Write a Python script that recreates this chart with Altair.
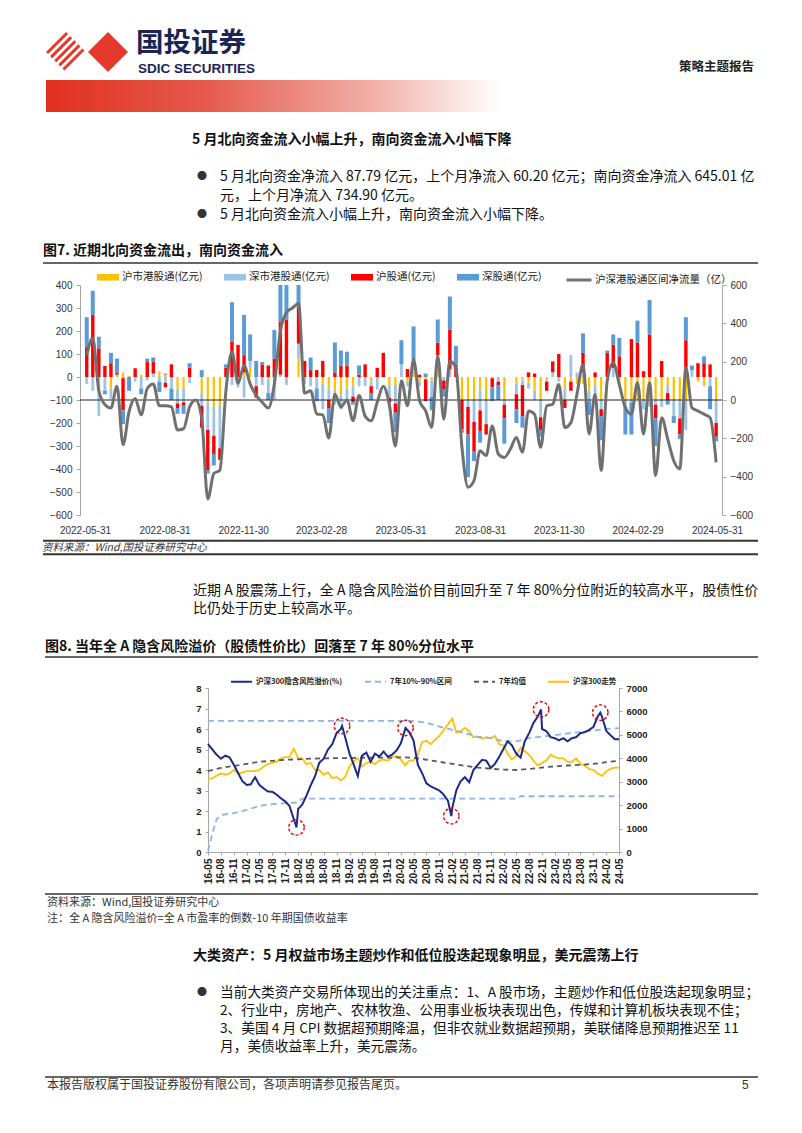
import altair as alt
import pandas as pd

CJK = "Noto Sans CJK SC"
LAT = "Liberation Sans"
W = 786

# ======================= Figure 7 data (weekly, 亿元) =======================
fig7_series = ["沪市港股通(亿元)", "深市港股通(亿元)", "沪股通(亿元)", "深股通(亿元)"]
fig7_colors = ["#FFC000", "#9DC3E6", "#FF0000", "#5B9BD5"]
fig7_line_name = "沪深港股通区间净流量（亿）"
fig7_ticks = ["2022-05-31", "2022-08-31", "2022-11-30", "2023-02-28", "2023-05-31",
              "2023-08-31", "2023-11-30", "2024-02-29", "2024-05-31"]

sh_hk = [0, 0, 0, 0, -50, 10, 20, 5, 0, 10,
         0, 0, 25, 10, 0, -55, -50, 0, 0, -70,
         -110, -130, -125, 0, 0, 0, 20, 40, 0, 0,
         -10, 0, 0, 0, 0, 80, 0, 0, 0, -30,
         -50, -60, -80, -50, -40, 0, 0, -20, 0, 0,
         -35, -35, 0, -20, 25, -20, -10, -15, 30, 0,
         0, 0, -100, -100, -100, -55, -100, -5, 0, -100,
         0, -30, -15, -30, -60, -100, -10, 0, 0, -50,
         -20, -30, -30, -60, -40, -100, 0, 0, -30, -100,
         -100, -100, -100, -100, -100, -100, -40, -100, -100, -100,
         0, -20, -40, 0, -100]
sz_hk = [-30, -60, -170, -60, -45, 0, -5, 0, -20, -50,
         -15, 15, -20, -25, -50, -60, -60, -25, 0, -55,
         -120, -125, -185, 0, -35, -45, -90, 30, -40, -35,
         -60, -100, 10, -35, 0, 65, -30, -40, -50, -110,
         -50, -60, -60, -50, -45, -40, -40, -20, -55, 0,
         -55, -80, 55, -20, 50, -20, 0, -70, 65, -15,
         35, 0, 0, -30, -95, -90, -105, 0, -20, -20,
         0, -45, -20, -20, -40, -75, -10, 20, -20, -50,
         95, 20, 20, -45, -40, -40, 0, 40, 0, -30,
         -10, 0, -40, -30, -20, -30, -30, -70, -80, -130,
         30, 0, 0, -40, -100]
sh_conn = [130, 270, 125, 48, 60, 10, -140, 0, 38, 0,
           65, 50, 0, -20, 55, -20, -15, 40, 0, -95,
           -175, -80, -50, 40, 155, 140, 75, 0, -50, 55,
           50, 80, 230, 250, 0, 155, 70, 30, 30, 70,
           -35, 20, 50, 50, -25, 10, 55, -30, 40, 105,
           -20, -40, 0, 35, 0, 10, -95, 0, 55, -40,
           170, 55, -127, -120, -130, -90, -45, -40, -15, -60,
           0, -65, -135, 20, 15, -55, -40, 45, 100, -35,
           -40, 0, 85, 0, 20, -30, 105, 100, 90, 0,
           165, 150, 25, 185, -60, 70, -30, 0, -70, 160,
           0, 60, 60, 55, -60]
sz_conn = [130, 105, 50, -15, 45, 60, -60, -60, 0, -25,
           15, 20, -45, 5, -50, -25, -35, 20, 0, 30,
           -15, -50, 0, 15, 170, 0, 175, 115, 70, 10,
           -30, 125, 200, 200, 0, 150, 0, 55, -55, 0,
           -65, 130, 65, 60, -10, 40, 0, -30, 0, 0,
           0, -85, 105, 0, 145, 0, 15, -60, 100, -30,
           145, 80, -15, -185, -40, -50, 0, -60, -65, -110,
           0, -60, -50, 0, 0, -30, 0, 5, 0, 0,
           0, 0, 85, -60, -10, -105, 10, 45, 80, -120,
           -140, 95, 0, 150, -120, 0, -20, -30, -20, 100,
           20, 0, 30, -100, -20]
net_flow = [234, 322, 48, -24, -42, 72, -234, -60, 8, -78,
            60, 84, -30, -30, -36, -156, -150, -36, 0, -96,
            -516, -384, -366, 48, 252, 86, 180, 84, 24, -12,
            -42, 84, 360, 456, 480, 504, 36, 48, -72, -78,
            -198, 30, -36, 0, -108, 24, -84, -108, -12, 72,
            -24, -240, 100, -30, 211, -5, -57, -144, 228, -100,
            202, 168, -247, -455, -420, -265, -290, -135, -282, -300,
            -256, -195, -273, -57, -74, -247, -31, -22, 81, -144,
            -118, 29, 185, -178, 29, -368, 99, 194, 81, -40,
            -74, 90, -178, 90, -394, -92, -204, -317, -360, 168,
            -40, -57, -74, -92, -325]

# ======================= Figure 8 data =======================
fig8_names = ["沪深300隐含风险溢价(%)", "7年10%-90%区间", "7年均值", "沪深300走势"]
fig8_colors = ["#1C2A88", "#8DB4E2", "#595959", "#FFC000"]
fig8_dashes = [[1, 0], [6, 4], [5, 4], [1, 0]]

# monthly, 2016-05 .. 2024-05
erp_monthly = [5.27, 5.0, 4.75, 4.55, 4.7, 4.62, 4.25, 3.85,
               3.45, 3.27, 3.3, 3.65, 3.27, 3.1, 2.95, 2.94, 2.8, 2.62, 2.47, 2.25,
               1.6, 2.1, 2.3, 2.75, 3.25, 3.7, 4.35, 4.55, 5.0, 5.25, 5.8, 6.0,
               5.6, 4.8, 4.3, 3.7, 4.7, 4.85, 4.4, 4.8, 4.65, 4.9, 4.65, 4.75,
               4.95, 5.3, 5.95, 5.85, 5.45, 4.25, 3.85, 3.35, 3.2, 3.1, 3.0, 2.8,
               2.5, 2.15, 3.0, 3.45, 3.65, 3.4, 4.0, 4.25, 4.5, 4.45, 4.1, 4.3,
               4.65, 5.05, 5.4, 5.2, 4.8, 4.6, 5.4, 5.8, 6.3, 6.6, 6.0, 5.9,
               5.6, 5.55, 5.45, 5.55, 5.4, 5.55, 5.6, 5.8, 5.85, 5.95, 6.1, 6.6,
               6.6, 5.9, 5.7, 5.5, 5.5]
csi300_monthly = [3100, 3150, 3250, 3350, 3300, 3350, 3500, 3350,
                  3400, 3450, 3450, 3450, 3500, 3650, 3750, 3800, 3850, 4000, 4050, 4050,
                  4400, 4000, 4000, 3750, 3800, 3500, 3500, 3300, 3400, 3150, 3200, 3050,
                  3200, 3650, 3850, 4000, 3650, 3800, 3850, 3750, 3900, 3950, 3900, 4050,
                  4100, 3950, 3700, 3900, 3900, 4150, 4700, 4750, 4600, 4800, 4950, 5200,
                  5450, 5700, 5100, 5150, 5300, 5150, 4900, 4900, 4850, 4900, 4850, 4950,
                  4600, 4550, 4200, 3950, 4100, 4450, 4300, 4150, 3900, 3700, 3800, 3900,
                  4150, 4050, 4000, 4000, 3850, 3850, 4000, 3750, 3700, 3550, 3500, 3350,
                  3250, 3450, 3550, 3600, 3600]
# marked extremes (red dashed circles)
extreme_dates = ["2018-01-20", "2018-12-10", "2020-03-05", "2021-01-25", "2022-10-25", "2023-12-20"]
extreme_values = [1.2, 6.15, 6.05, 1.75, 6.95, 6.8]

upper_dates = ["2016-05-01", "2020-05-01", "2020-08-01", "2020-11-01", "2021-02-01", "2021-05-01",
               "2021-08-01", "2021-11-01", "2022-02-01", "2022-05-01", "2022-08-01", "2022-11-01",
               "2023-02-01", "2023-05-01", "2023-08-01", "2023-11-01", "2024-02-01", "2024-05-01"]
upper_values = [6.4, 6.4, 6.3, 6.12, 5.96, 5.8, 5.63, 5.55, 5.4, 5.4, 5.55, 5.63,
                5.7, 5.78, 5.85, 5.92, 6.0, 6.04]
lower_dates = ["2016-05-01", "2016-06-01", "2016-07-01", "2016-08-01", "2016-11-01", "2017-02-01",
               "2017-05-01", "2017-08-01", "2017-11-01", "2018-02-01", "2018-03-01", "2022-05-01",
               "2022-06-01", "2024-05-01"]
lower_values = [0.05, 0.9, 1.6, 1.8, 1.9, 2.05, 2.25, 2.33, 2.38, 2.42, 2.6, 2.6, 2.72, 2.72]
# quarterly 2016-05 .. 2024-05
mean_values = [3.95, 4.1, 4.2, 4.3, 4.4, 4.45, 4.5, 4.52, 4.55, 4.57, 4.58, 4.58,
               4.6, 4.6, 4.6, 4.62, 4.6, 4.5, 4.4, 4.3, 4.2, 4.12, 4.06, 4.02,
               4.0, 4.05, 4.12, 4.18, 4.22, 4.25, 4.3, 4.38, 4.45]

# ======================= page text =======================
sec1_title = "5 月北向资金流入小幅上升，南向资金流入小幅下降"
sec1_lines = ["5 月北向资金净流入 87.79 亿元，上个月净流入 60.20 亿元；南向资金净流入 645.01 亿",
              "元，上个月净流入 734.90 亿元。",
              "5 月北向资金流入小幅上升，南向资金流入小幅下降。"]
fig7_title = "图7. 近期北向资金流出，南向资金流入"
fig7_source = "资料来源：Wind,国投证券研究中心"
para_lines = ["近期 A 股震荡上行，全 A 隐含风险溢价目前回升至 7 年 80%分位附近的较高水平，股债性价",
              "比仍处于历史上较高水平。"]
fig8_title = "图8. 当年全 A 隐含风险溢价（股债性价比）回落至 7 年 80%分位水平"
fig8_source = "资料来源：Wind,国投证券研究中心"
fig8_note = "注：全 A 隐含风险溢价=全 A 市盈率的倒数-10 年期国债收益率"
sec2_title = "大类资产：5 月权益市场主题炒作和低位股迭起现象明显，美元震荡上行"
sec2_lines = ["当前大类资产交易所体现出的关注重点：1、A 股市场，主题炒作和低位股迭起现象明显；",
              "2、行业中，房地产、农林牧渔、公用事业板块表现出色，传媒和计算机板块表现不佳；",
              "3、美国 4 月 CPI 数据超预期降温，但非农就业数据超预期，美联储降息预期推迟至 11",
              "月，美债收益率上升，美元震荡。"]
footer_text = "本报告版权属于国投证券股份有限公司，各项声明请参见报告尾页。"
page_no = "5"

# ======================= helpers =======================
one = pd.DataFrame({"k": [0]})


def dt(s):
    t = pd.Timestamp(s)
    return alt.DateTime(year=t.year, month=t.month, date=t.day)


def txt(s, x, y, size=14, weight="normal", color="#111111", font=CJK, align="left", style="normal"):
    return alt.Chart(one).mark_text(fontSize=size, fontWeight=weight, color=color, font=font,
                                    align=align, baseline="middle", fontStyle=style).encode(
        x=alt.value(x), y=alt.value(y), text=alt.value(s))


def hrule(x1, x2, y, width=1.5, color="#333333"):
    return alt.Chart(one).mark_rule(color=color, strokeWidth=width).encode(
        x=alt.value(x1), x2=alt.value(x2), y=alt.value(y))


# ======================= Panel 1: header + section 1 =======================
def logo_path():
    cx, cy, half = 87.0, 52.0, 41.0
    polys = []
    for a in [98.0, 106.2, 114.4, 122.6, 130.8]:
        b = a + 4.2
        pts = [(a, -6.0), (b, -6.0), (b, 34.0), (a, 34.0)]
        polys.append([((u + v) / 2, (u - v) / 2) for u, v in pts])
    polys.append([(88, 52), (108, 32), (128, 52), (108, 72)])
    out = []
    for poly in polys:
        seg = []
        for j, (px, py) in enumerate(poly):
            seg.append(("M" if j == 0 else "L") + f"{(px - cx) / half:.4f},{(py - cy) / half:.4f}")
        out.append("".join(seg) + "Z")
    return "".join(out)


logo = alt.Chart(one).mark_point(shape=logo_path(), filled=True, size=82 * 82, color="#E4392B",
                                 opacity=1, strokeWidth=0).encode(x=alt.value(79), y=alt.value(44))
band = alt.Chart(one).mark_rect(color=alt.Gradient(
    gradient="linear", x1=0, x2=1, y1=0, y2=0,
    stops=[alt.GradientStop(color="#E1301F", offset=0),
           alt.GradientStop(color="#E55A4C", offset=0.35),
           alt.GradientStop(color="#F2B0A8", offset=0.72),
           alt.GradientStop(color="#FFFFFF", offset=1)])).encode(
    x=alt.value(38), x2=alt.value(493), y=alt.value(72), y2=alt.value(104))

p1_layers = [
    logo, band,
    txt("国投证券", 128, 36, size=27.5, weight="bold", color="#1B2555"),
    txt("SDIC SECURITIES", 130, 60.5, size=13.5, weight="bold", color="#1B2555", font=LAT),
    txt("策略主题报告", 746, 59, size=12.5, weight="bold", color="#222222", align="right"),
    txt(sec1_title, 184, 132, size=14, weight="bold"),
    txt("●", 189, 169, size=10, color="#333333"),
    txt("●", 189, 207, size=10, color="#333333"),
    txt(sec1_lines[0], 212, 169),
    txt(sec1_lines[1], 212, 188),
    txt(sec1_lines[2], 212, 207),
    txt(fig7_title, 35, 243, size=14, weight="bold"),
    hrule(35, 750, 255),
]
panel1 = alt.layer(*p1_layers).properties(width=W, height=258)

# ======================= Panel 2: Figure 7 =======================
weeks = pd.date_range("2022-06-02", periods=len(net_flow), freq="7D")
rows = []
for k, (name, vals) in enumerate(zip(fig7_series, [sh_hk, sz_hk, sh_conn, sz_conn])):
    for d, v in zip(weeks, vals):
        rows.append({"date": d, "series": name, "value": v, "ord": k})
bars_df = pd.DataFrame(rows)
flow_df = pd.DataFrame({"date": weeks, "flow": net_flow, "name": fig7_line_name})

P2H = 294
x1_scale = alt.Scale(domain=[dt("2022-05-31"), dt("2024-05-31")], range=[72, 714])
x1_axis = alt.Axis(values=[dt(s) for s in fig7_ticks], format="%Y-%m-%d", labelFlush=False,
                   labelOverlap=False, ticks=False, domain=False, grid=False, labelFont=LAT,
                   labelFontSize=10, labelColor="#333333", labelPadding=10, offset=-(P2H - 249),
                   title=None)
axis_common = dict(grid=False, labelFont=LAT, labelFontSize=10, labelColor="#333333",
                   domainColor="#A6A6A6", tickColor="#A6A6A6", tickSize=4, title=None, labelPadding=4)
y1_left_scale = alt.Scale(domain=[-600, 400], range=[249, 19], clamp=True, nice=False, zero=False)
y1_left_axis = alt.Axis(orient="left", values=list(range(-600, 401, 100)), offset=-72, **axis_common)
y1_right_scale = alt.Scale(domain=[-600, 600], range=[249, 19], nice=False, zero=False)
y1_right_axis = alt.Axis(orient="right", values=list(range(-600, 601, 200)), offset=-72, **axis_common)

bars = alt.Chart(bars_df).mark_bar().encode(
    x=alt.X("date:T", scale=x1_scale, axis=x1_axis),
    y=alt.Y("value:Q", stack="zero", scale=y1_left_scale, axis=y1_left_axis),
    color=alt.Color("series:N", scale=alt.Scale(domain=fig7_series, range=fig7_colors),
                    legend=alt.Legend(title=None, orient="none", legendX=89, legendY=0,
                                      direction="horizontal", symbolType="M-1,-0.3H1V0.3H-1Z",
                                      symbolSize=484, symbolStrokeWidth=0, labelFont=CJK,
                                      labelFontSize=10.5, labelColor="#222222", columnPadding=21,
                                      labelOffset=3, padding=0)),
    size=alt.Size("ord:O", scale=alt.Scale(domain=[0, 1, 2, 3], range=[2.2, 4, 4, 4]), legend=None),
    order=alt.Order("ord:Q"),
)
zero_rule = alt.Chart(one).mark_rule(color="#222222", strokeWidth=1).encode(
    y=alt.YDatum(0, scale=y1_right_scale, axis=y1_right_axis), x=alt.value(72), x2=alt.value(714))
flow_line = alt.Chart(flow_df).mark_line(strokeWidth=3, interpolate="monotone").encode(
    x=alt.X("date:T", scale=x1_scale, axis=x1_axis),
    y=alt.Y("flow:Q", scale=y1_right_scale, axis=y1_right_axis),
    stroke=alt.Stroke("name:N", scale=alt.Scale(domain=[fig7_line_name], range=["#707070"]),
                      legend=alt.Legend(title=None, orient="none", legendX=557, legendY=0,
                                        symbolType="stroke", symbolSize=625, symbolStrokeWidth=3,
                                        labelFont=CJK, labelFontSize=10.5, labelColor="#222222",
                                        labelOffset=2, padding=0)),
)
p2_texts = [
    hrule(35, 750, 274.7, width=2),
    txt(fig7_source, 34, 281.5, size=10.5, style="italic", color="#333333"),
    hrule(35, 750, 288.3, width=2),
]
panel2 = alt.layer(bars, alt.layer(zero_rule, flow_line), *p2_texts).resolve_scale(
    y="independent").properties(width=W, height=P2H)

# ======================= Panel 3: Figure 8 =======================
months = pd.date_range("2016-05-01", periods=len(erp_monthly), freq="MS")
quarters = pd.date_range("2016-05-01", periods=len(mean_values), freq="3MS")

navy_df = pd.concat([
    pd.DataFrame({"date": months, "v": erp_monthly}),
    pd.DataFrame({"date": pd.to_datetime(extreme_dates), "v": extreme_values}),
]).sort_values("date")
navy_df["series"] = fig8_names[0]
band_df = pd.concat([
    pd.DataFrame({"date": pd.to_datetime(upper_dates), "v": upper_values, "series": fig8_names[1], "part": "up"}),
    pd.DataFrame({"date": pd.to_datetime(lower_dates), "v": lower_values, "series": fig8_names[1], "part": "low"}),
    pd.DataFrame({"date": quarters, "v": mean_values, "series": fig8_names[2], "part": "mean"}),
])
csi_df = pd.DataFrame({"date": months, "v": csi300_monthly, "series": fig8_names[3]})
circ_df = pd.DataFrame({"date": pd.to_datetime(extreme_dates), "v": extreme_values})

P3H = 366
x2_scale = alt.Scale(domain=[dt("2016-05-01"), dt("2024-05-01")], range=[200, 611])
x2_axis = alt.Axis(values=[dt(d) for d in quarters], format="%y-%m", labelAngle=270, labelFont=LAT,
                   labelFontSize=10, labelFontWeight="bold", labelColor="#222222", labelOverlap=False,
                   labelFlush=False, tickSize=3, tickColor="#A6A6A6", domainColor="#A6A6A6",
                   grid=False, offset=-(P3H - 292), title=None, labelPadding=3)
ax2 = dict(grid=False, labelFont=LAT, labelFontSize=9.5, labelFontWeight="bold", labelColor="#222222",
           domainColor="#A6A6A6", tickColor="#A6A6A6", tickSize=3, title=None, labelPadding=4, format="d")
left_scale = alt.Scale(domain=[0, 8], range=[292, 128], nice=False, zero=False)
left_axis = alt.Axis(orient="left", values=list(range(0, 9)), offset=-200, **ax2)
right_scale = alt.Scale(domain=[0, 7000], range=[292, 128], nice=False, zero=False)
right_axis = alt.Axis(orient="right", values=list(range(0, 7001, 1000)), offset=-175, **ax2)
leg8 = alt.Legend(title=None, orient="none", legendX=222, legendY=110, direction="horizontal",
                  symbolType="stroke", symbolSize=441, symbolStrokeWidth=2, labelFont=CJK,
                  labelFontSize=7.5, labelFontWeight="bold", labelColor="#222222",
                  columnPadding=18, labelOffset=3, padding=0)
color8 = alt.Color("series:N", scale=alt.Scale(domain=fig8_names, range=fig8_colors), legend=leg8)
dash8 = alt.StrokeDash("series:N", scale=alt.Scale(domain=fig8_names, range=fig8_dashes), legend=leg8)

csi_line = alt.Chart(csi_df).mark_line(strokeWidth=1.8).encode(
    x=alt.X("date:T", scale=x2_scale, axis=x2_axis),
    y=alt.Y("v:Q", scale=right_scale, axis=right_axis),
    color=color8, strokeDash=dash8)
band_lines = alt.Chart(band_df).mark_line(strokeWidth=1.8).encode(
    x=alt.X("date:T", scale=x2_scale, axis=x2_axis),
    y=alt.Y("v:Q", scale=left_scale, axis=left_axis),
    color=color8, strokeDash=dash8, detail="part:N")
navy_line = alt.Chart(navy_df).mark_line(strokeWidth=2).encode(
    x=alt.X("date:T", scale=x2_scale, axis=x2_axis),
    y=alt.Y("v:Q", scale=left_scale, axis=left_axis),
    color=color8, strokeDash=dash8)
circles = alt.Chart(circ_df).mark_point(shape="circle", size=240, filled=False, color="#E60000",
                                        strokeWidth=1.4, strokeDash=[3, 2], opacity=1).encode(
    x=alt.X("date:T", scale=x2_scale, axis=x2_axis),
    y=alt.Y("v:Q", scale=left_scale, axis=left_axis))

p3_texts = [
    txt(para_lines[0], 185, 31),
    txt(para_lines[1], 185, 49),
    txt(fig8_title, 37, 87, size=14, weight="bold"),
    hrule(37, 750, 97),
    hrule(37, 750, 334),
    txt(fig8_source, 39, 343, size=11, color="#333333"),
    txt(fig8_note, 39, 359, size=11, color="#333333"),
]
panel3 = alt.layer(csi_line, alt.layer(band_lines, navy_line, circles), *p3_texts).resolve_scale(
    y="independent").properties(width=W, height=P3H)

# ======================= Panel 4: section 2 + footer =======================
p4_layers = [
    txt(sec2_title, 185, 30, size=14, weight="bold"),
    txt("●", 189, 67, size=10, color="#333333"),
    txt(sec2_lines[0], 212, 67, size=13.7),
    txt(sec2_lines[1], 212, 85, size=13.7),
    txt(sec2_lines[2], 212, 103, size=13.7),
    txt(sec2_lines[3], 212, 121, size=13.7),
    hrule(37, 750, 151),
    txt(footer_text, 39, 159, size=12, color="#333333"),
    txt(page_no, 734, 159, size=12, color="#333333", font=LAT),
]
panel4 = alt.layer(*p4_layers).properties(width=W, height=199)

chart = alt.vconcat(panel1, panel2, panel3, panel4, spacing=0).resolve_scale(
    color="independent", stroke="independent", strokeDash="independent", size="independent").resolve_legend(
    color="independent", stroke="independent", strokeDash="independent", size="independent").properties(
    padding=0, background="white").configure_view(strokeWidth=0)

chart.save("out.html", embed_options={"renderer": "svg", "actions": False})
